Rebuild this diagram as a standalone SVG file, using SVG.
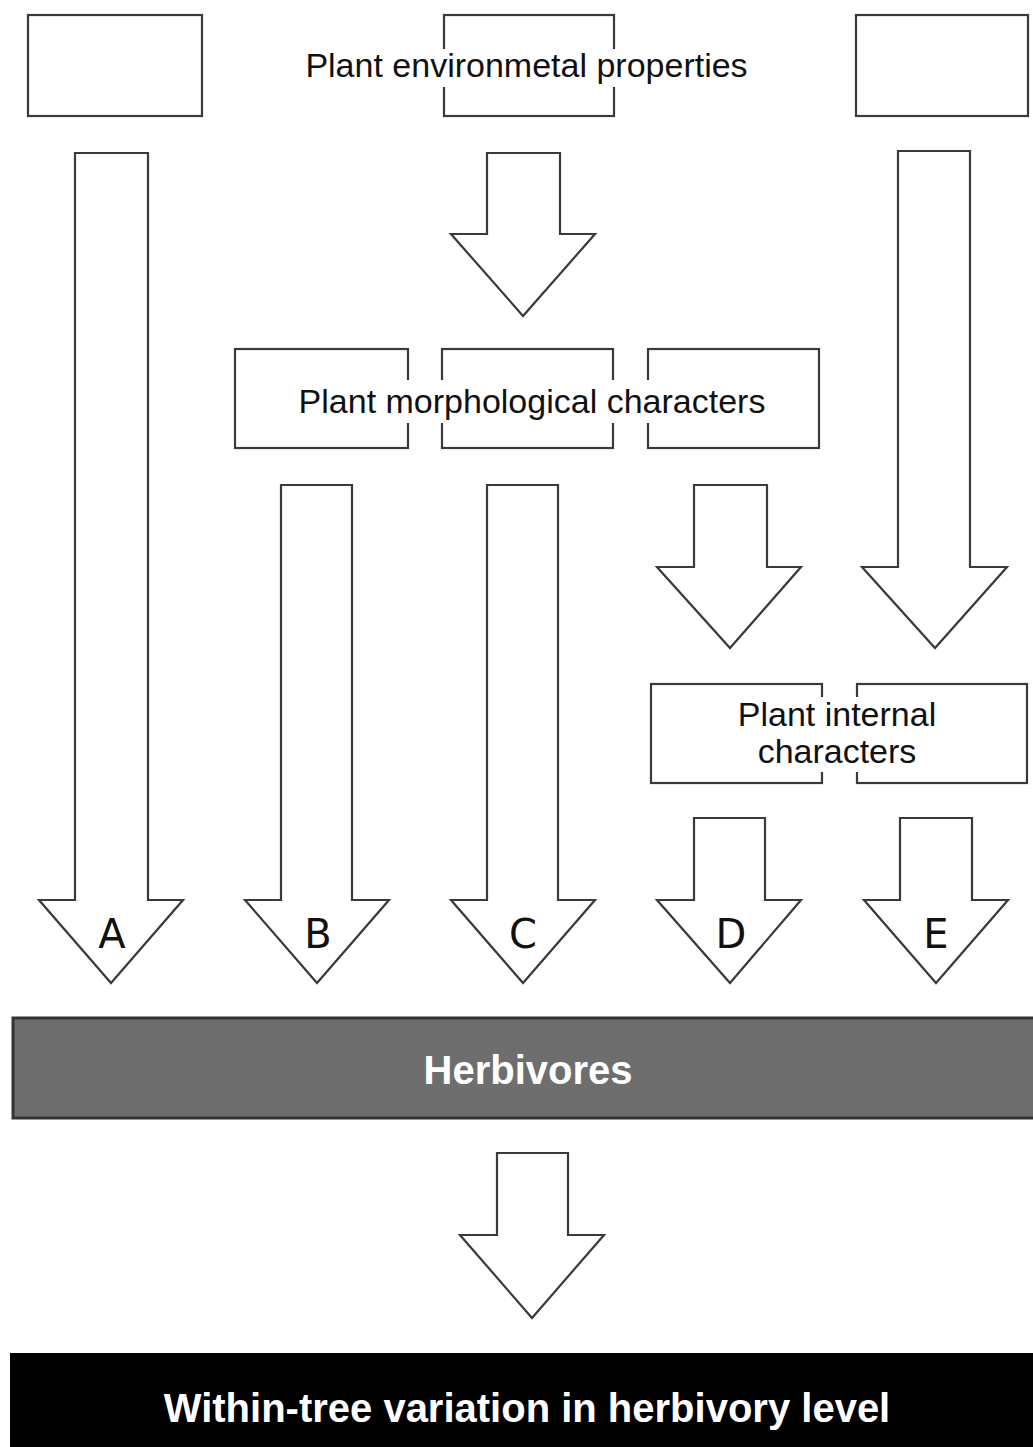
<svg xmlns="http://www.w3.org/2000/svg" width="1033" height="1447" viewBox="0 0 1033 1447">
<style>
.box{fill:#fff;stroke:#3a3a3a;stroke-width:2.2}
.arr{fill:#fff;stroke:#3a3a3a;stroke-width:2.2;stroke-linejoin:miter}
.knock{fill:#fff;stroke:none}
.lbl{font-family:"Liberation Sans",Arial,sans-serif;font-size:34px;fill:#111;text-anchor:middle}
.let{font-family:"DejaVu Sans",sans-serif;font-size:40px;fill:#111;text-anchor:middle}
.big{font-family:"Liberation Sans",Arial,sans-serif;font-size:40px;font-weight:bold;fill:#fff;text-anchor:middle}
</style>
<rect width="1033" height="1447" fill="#fff"/>
<g id="env-left"><rect class="box" x="28" y="15" width="174" height="101"/></g>
<g id="env-mid"><rect class="box" x="444" y="15" width="170" height="101"/></g>
<g id="env-right"><rect class="box" x="856" y="15" width="172" height="101"/></g>
<g id="env-label"><rect class="knock" x="300" y="49" width="452" height="38"/><text class="lbl" x="526.5" y="77">Plant environmetal properties</text></g>
<g id="morph-1"><rect class="box" x="235" y="349" width="173" height="99"/></g>
<g id="morph-2"><rect class="box" x="442" y="349" width="171" height="99"/></g>
<g id="morph-3"><rect class="box" x="648" y="349" width="171" height="99"/></g>
<g id="morph-label"><rect class="knock" x="292" y="380" width="480" height="43"/><text class="lbl" x="532" y="413">Plant morphological characters</text></g>
<g id="int-1"><rect class="box" x="651" y="684" width="171" height="99"/></g>
<g id="int-2"><rect class="box" x="857" y="684" width="170" height="99"/></g>
<g id="int-label"><rect class="knock" x="728" y="697" width="220" height="75"/><text class="lbl" x="837" y="726">Plant internal</text><text class="lbl" x="837" y="763">characters</text></g>
<g id="herbivores"><rect x="13" y="1018" width="1025" height="100" fill="#6e6e6e" stroke="#333" stroke-width="3"/><text class="big" x="528" y="1084">Herbivores</text></g>
<g id="result"><rect x="10" y="1353" width="1030" height="100" fill="#000"/><text class="big" x="527" y="1422">Within-tree variation in herbivory level</text></g>
<g id="connectors">
<path class="arr" d="M75,153 H148 V900 H183 L111,983 L39,900 H75 Z"/>
<path class="arr" d="M281,485 H352 V900 H389 L317,983 L245,900 H281 Z"/>
<path class="arr" d="M487,485 H558 V900 H595 L523,983 L451,900 H487 Z"/>
<path class="arr" d="M694,818 H765 V900 H801 L730,983 L657,900 H694 Z"/>
<path class="arr" d="M900,818 H972 V900 H1008 L936,983 L864,900 H900 Z"/>
<path class="arr" d="M487,153 H560 V234 H595 L523,316 L451,234 H487 Z"/>
<path class="arr" d="M694,485 H767 V567 H801 L730,648 L657,567 H694 Z"/>
<path class="arr" d="M898,151 H970 V567 H1007 L935,648 L862,567 H898 Z"/>
<path class="arr" d="M497,1153 H568 V1235 H604 L532,1318 L460,1235 H497 Z"/>
<text class="let" x="112" y="948">A</text>
<text class="let" x="318" y="948">B</text>
<text class="let" x="523" y="948">C</text>
<text class="let" x="731" y="948">D</text>
<text class="let" x="936" y="948">E</text>
</g>
</svg>
